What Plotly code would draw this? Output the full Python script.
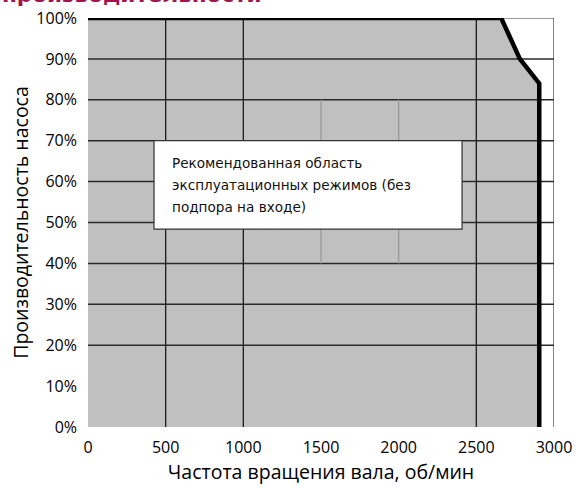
import plotly.graph_objects as go

# рабочая граница насоса
speed = [0, 2660, 2780, 2905, 2905]
capacity = [100, 100, 90, 84, 0]

x_ticks = [0, 500, 1000, 1500, 2000, 2500, 3000]
y_ticks = [0, 10, 20, 30, 40, 50, 60, 70, 80, 90, 100]
y_labels = [f"{v}%" for v in y_ticks]

h_grid = [20, 30, 40, 50, 60, 70, 80, 90]
v_grid_dark = [500, 1000, 2500]
v_grid_light = [1500, 2000]

box_lines = ["Рекомендованная область",
             "эксплуатационных режимов (без",
             "подпора на входе)"]

fig = go.Figure()

# серая заливка под кривой
fig.add_trace(go.Scatter(x=speed, y=capacity, fill="tozeroy", fillcolor="#C0C0C0",
                         mode="none", hoverinfo="skip"))

# сетка
hx, hy = [], []
for v in h_grid:
    hx += [0, 3000, None]
    hy += [v, v, None]
fig.add_trace(go.Scatter(x=hx, y=hy, mode="lines", line=dict(color="#2a2a2a", width=1.5),
                         hoverinfo="skip"))

vx, vy = [], []
for v in v_grid_dark:
    vx += [v, v, None]
    vy += [0, 100, None]
fig.add_trace(go.Scatter(x=vx, y=vy, mode="lines", line=dict(color="#1a1a1a", width=1.3),
                         hoverinfo="skip"))

lx, ly = [], []
for v in v_grid_light:
    lx += [v, v, None]
    ly += [40, 80, None]
fig.add_trace(go.Scatter(x=lx, y=ly, mode="lines", line=dict(color="#9a9a9a", width=1.3),
                         hoverinfo="skip"))

# рамка сверху и справа
fig.add_trace(go.Scatter(x=[0, 3000, 3000], y=[100, 100, 0], mode="lines",
                         line=dict(color="#333333", width=1.2), hoverinfo="skip",
                         cliponaxis=False))

# граница
fig.add_trace(go.Scatter(x=speed, y=capacity, mode="lines",
                         line=dict(color="black", width=4.5), hoverinfo="skip",
                         cliponaxis=False))

shapes = [
    dict(type="rect", xref="x", yref="y", x0=425, x1=2408, y0=48.4, y1=70,
         fillcolor="white", line=dict(color="#333333", width=1.2), layer="above"),
]
tick_line = dict(color="black", width=1.2)
for yv in [0, 100]:
    shapes.append(dict(type="line", xref="x", yref="y", xsizemode="pixel", xanchor=0,
                       x0=-6, x1=0, y0=yv, y1=yv, line=tick_line))
for xv in [0, 3000]:
    shapes.append(dict(type="line", xref="x", yref="y", ysizemode="pixel", yanchor=0,
                       x0=xv, x1=xv, y0=0, y1=-9, line=tick_line))

annotations = [
    dict(text="<b>производительности</b>", xref="paper", yref="paper",
         x=-88 / 466, y=1.021, xanchor="left", yanchor="bottom", showarrow=False,
         font=dict(family="DejaVu Sans", size=21.5, color="#A3124D")),
]
for i, line in enumerate(box_lines):
    annotations.append(dict(text=line, xref="x", yref="y", x=525, y=64.6 - i * 5.4,
                            xanchor="left", yanchor="middle", showarrow=False,
                            font=dict(family="DejaVu Sans", size=13.6, color="#111111")))

fig.update_layout(
    width=576, height=488,
    margin=dict(l=88, r=22, t=18, b=61),
    paper_bgcolor="white", plot_bgcolor="white",
    showlegend=False,
    shapes=shapes,
    annotations=annotations,
    font=dict(family="Open Sans", color="black"),
    xaxis=dict(range=[0, 3000], tickvals=x_ticks, ticks="", showgrid=False,
               zeroline=False, showline=False, tickfont=dict(size=16),
               automargin=False, ticklabelstandoff=9,
               title=dict(text="Частота вращения вала, об/мин", font=dict(size=19.5),
                          standoff=3)),
    yaxis=dict(range=[0, 100], tickvals=y_ticks, ticktext=y_labels, ticks="",
               showgrid=False, zeroline=False, showline=False, tickfont=dict(size=16),
               automargin=False, ticklabelstandoff=10,
               title=dict(text="Производительность насоса", font=dict(size=19.5),
                          standoff=2)),
)

fig.write_html("out.html", config={"displayModeBar": False},
               post_script="document.body.style.margin = '0';")
